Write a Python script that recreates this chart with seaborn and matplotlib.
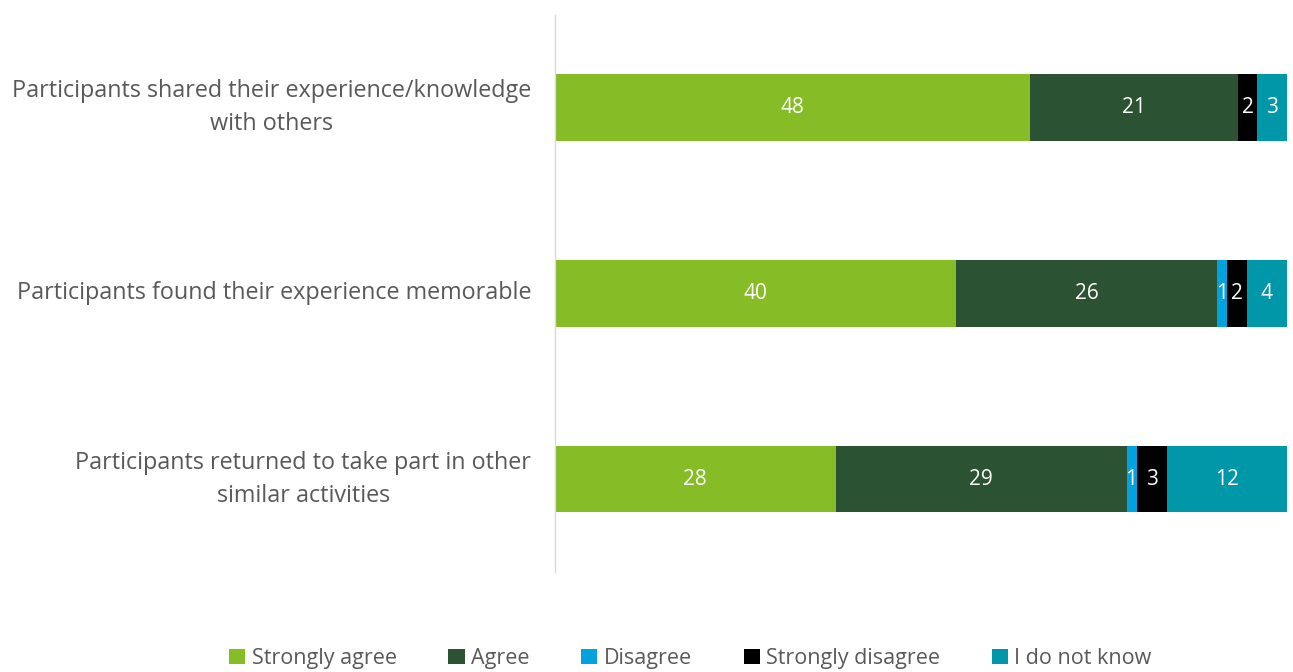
import numpy as np
import pandas as pd
import matplotlib.pyplot as plt
import seaborn as sns
from matplotlib.patches import Patch

# Datos del gráfico
preguntas = [
    "Participants shared their experience/knowledge\nwith others",
    "Participants found their experience memorable",
    "Participants returned to take part in other\nsimilar activities",
]
categorias = ["Strongly agree", "Agree", "Disagree", "Strongly disagree", "I do not know"]
muy_de_acuerdo = [48, 40, 28]
de_acuerdo = [21, 26, 29]
en_desacuerdo = [0, 1, 1]
muy_en_desacuerdo = [2, 2, 3]
no_se = [3, 4, 12]
colores = ["#86BC25", "#2C5234", "#00A3E0", "#000000", "#0097A9"]

sns.set_theme(style="white")
plt.rcParams["font.family"] = ["Open Sans", "DejaVu Sans"]

valores = np.array([muy_de_acuerdo, de_acuerdo, en_desacuerdo, muy_en_desacuerdo, no_se], dtype=float)
pct = valores / valores.sum(axis=0) * 100
acum = pct.cumsum(axis=0)

fig, ax = plt.subplots(figsize=(12.93, 6.72), dpi=100)
fig.subplots_adjust(left=0.429, right=0.9954, top=0.978, bottom=0.149)

# Barras apiladas: se dibuja de la suma total hacia la primera categoria
for k in range(len(categorias) - 1, -1, -1):
    df = pd.DataFrame({"pregunta": preguntas, "valor": acum[k]})
    sns.barplot(data=df, x="valor", y="pregunta", color=colores[k], saturation=1,
                width=0.36, ax=ax, orient="h", linewidth=0)

# Etiquetas dentro de las barras
for k in range(len(categorias)):
    for i in range(len(preguntas)):
        v = valores[k, i]
        if v > 0:
            ax.text(acum[k, i] - pct[k, i] / 2, i, f"{int(v)}", ha="center", va="center",
                    color="white", fontsize=15)

ax.set_xlim(0, 100)
ax.set_ylim(2.5, -0.5)
ax.set_xlabel("")
ax.set_ylabel("")
ax.set_xticks([])
for s in ["top", "right", "bottom"]:
    ax.spines[s].set_visible(False)
ax.spines["left"].set_color("#d9d9d9")
ax.spines["left"].set_linewidth(1)
ax.tick_params(axis="y", length=0, pad=17, labelsize=16.8, labelcolor="#595959")
for t in ax.get_yticklabels():
    t.set_multialignment("center")
    t.set_linespacing(1.5)
    t.set_verticalalignment("center")

handles = [Patch(facecolor=c, edgecolor="none", label=l) for c, l in zip(colores, categorias)]
fig.legend(handles=handles, loc="center", bbox_to_anchor=(0.534, 0.02), ncol=5, frameon=False,
           fontsize=15.5, labelcolor="#595959", handlelength=0.75, handleheight=0.75,
           handletextpad=0.3, columnspacing=2.4)

plt.savefig("out.png", dpi=100)
